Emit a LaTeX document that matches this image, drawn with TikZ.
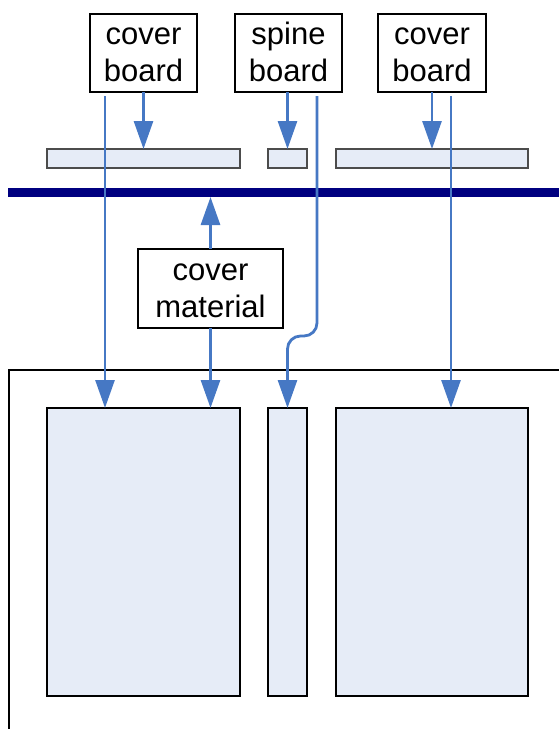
\documentclass[tikz,border=0pt]{standalone}
\usepackage{fontspec}
\setmainfont{Liberation Sans}
\usetikzlibrary{arrows.meta,calc}
\definecolor{arrowblue}{RGB}{70,120,196}
\definecolor{boardfill}{RGB}{230,236,247}
\definecolor{barnavy}{RGB}{0,0,128}
\newcommand\topstrut{\rule[-10pt]{0pt}{40pt}}
\newcommand\lblstrut{\rule[-10pt]{0pt}{28pt}}
\begin{document}
\begin{tikzpicture}[x=1pt,y=-1pt,
  labelbox/.style={draw=black,line width=2.4pt,fill=white,inner sep=0pt,outer sep=0pt,
    anchor=north west,align=center,font=\fontsize{31}{37}\selectfont},
  board/.style={draw=black!70,line width=1.5pt,fill=boardfill,inner sep=0pt,outer sep=0pt,
    anchor=north west,minimum height=19pt},
  bigboard/.style={draw=black,line width=2.4pt,fill=boardfill,inner sep=0pt,outer sep=0pt,
    anchor=north west,minimum height=288pt},
  arr/.style={draw=arrowblue,line width=2.8pt,-{Triangle[length=28pt,width=19pt]}},
  frame/.style={draw=black,line width=2.2pt}
]
\useasboundingbox (0,0) rectangle (559,729);
% outer case outline
\coordinate (fbl) at (9,729);
\coordinate (ftl) at (9,370);
\coordinate (ftr) at (559,370);
\draw[frame] (fbl) -- (ftl) -- (ftr);
% label boxes
\node[labelbox,minimum width=107pt,minimum height=78pt] (cb1) at (90,14) {\topstrut cover\\\lblstrut board};
\node[labelbox,minimum width=107pt,minimum height=78pt] (sb) at (235,14) {\topstrut spine\\\lblstrut board};
\node[labelbox,minimum width=108pt,minimum height=78pt] (cb2) at (378,14) {\topstrut cover\\\lblstrut board};
% thin boards
\node[board,minimum width=193pt] (tb1) at (47,149) {};
\node[board,minimum width=39pt] (tb2) at (268,149) {};
\node[board,minimum width=192pt] (tb3) at (336,149) {};
% navy bar
\node[fill=barnavy,inner sep=0pt,outer sep=0pt,anchor=north west,minimum width=551pt,minimum height=9pt] (bar) at (8,188) {};
% cover material
\node[labelbox,minimum width=145pt,minimum height=79pt] (cm) at (138,249) {\topstrut cover\\\lblstrut material};
% big boards
\node[bigboard,minimum width=193pt] (B1) at (47,408) {};
\node[bigboard,minimum width=39pt] (B2) at (268,408) {};
\node[bigboard,minimum width=192pt] (B3) at (336,408) {};
% short arrows
\draw[arr] (tb1.north |- cb1.south) -- (tb1.north);
\draw[arr] (tb2.north |- sb.south) -- (tb2.north);
\draw[arr] (tb3.north |- cb2.south) -- (tb3.north);
% cover material arrows
\draw[arr] (cm.north) -- (cm.north |- bar.south);
\draw[arr] (cm.south) -- (cm.south |- B1.north);
% long arrows
\coordinate (l1) at ($(cb1.south)+(-38.5,4)$);
\draw[arr] (l1) -- (l1 |- B1.north);
\coordinate (l2) at ($(sb.south)+(28.5,4)$);
\draw[arr,rounded corners=13pt] (l2) -- ($(l2)+(0,240)$) -- ($(B2.north)+(0,-72)$) -- (B2.north);
\coordinate (l3) at ($(cb2.south)+(19,4)$);
\draw[arr] (l3) -- (l3 |- B3.north);
\end{tikzpicture}
\end{document}
